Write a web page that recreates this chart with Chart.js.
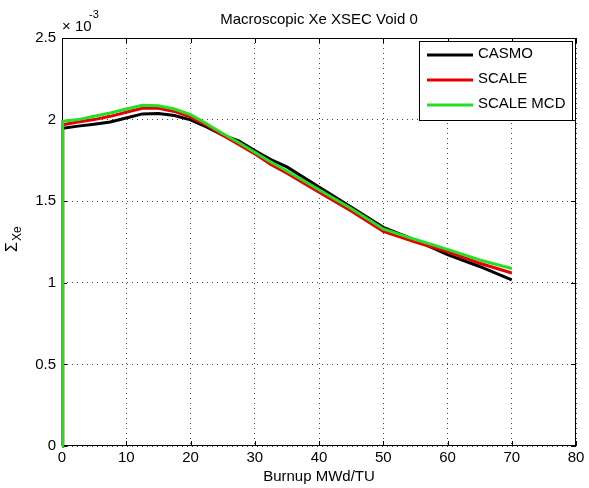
<!DOCTYPE html>
<html>
<head>
<meta charset="utf-8">
<script src="https://cdn.jsdelivr.net/npm/chart.js@4"></script>
<style>
  html, body { margin: 0; padding: 0; background: #fff; }
  canvas { display: block; }
</style>
</head>
<body>
<canvas id="xsecChart" width="589" height="488"></canvas>
<script>
// Macroscopic Xe XSEC, void 0 - values in units of 1e-3

const burnup = [0, 0.1, 2.5, 5, 7.5, 10, 12.5, 15, 17.5, 20, 22.5, 25, 27.5, 30, 32.5, 35, 40, 45, 50, 55, 60, 65, 70];
const casmo = [0, 1.947, 1.96, 1.972, 1.985, 2.01, 2.035, 2.038, 2.025, 1.998, 1.955, 1.905, 1.87, 1.81, 1.755, 1.71, 1.587, 1.465, 1.34, 1.262, 1.172, 1.10, 1.018];
const scale = [0, 1.968, 1.985, 2.0, 2.02, 2.045, 2.07, 2.07, 2.05, 2.015, 1.965, 1.905, 1.848, 1.79, 1.725, 1.672, 1.555, 1.44, 1.315, 1.25, 1.19, 1.12, 1.06];
const scaleMcd = [0, 1.99, 2.0, 2.02, 2.04, 2.065, 2.088, 2.085, 2.065, 2.03, 1.975, 1.915, 1.86, 1.80, 1.74, 1.685, 1.57, 1.455, 1.33, 1.265, 1.205, 1.14, 1.088];

const xTicks = [0, 10, 20, 30, 40, 50, 60, 70, 80];
const yTicks = [0, 0.5, 1, 1.5, 2, 2.5];

const FONT = "'Liberation Sans', Arial, Helvetica, sans-serif";

const toPoints = ys => burnup.map((x, i) => ({ x, y: ys[i] }));

const series = [
  { label: "CASMO", data: casmo, color: "#000000" },
  { label: "SCALE", data: scale, color: "#e80000" },
  { label: "SCALE MCD", data: scaleMcd, color: "#22e022" }
];

// matlab-like frame, inner ticks, texts and legend box
const matlabDecor = {
  id: "matlabDecor",
  beforeDatasetsDraw(chart) {
    const { ctx, chartArea: a, scales } = chart;
    ctx.save();
    ctx.strokeStyle = "#000";
    ctx.lineWidth = 1;
    ctx.setLineDash([]);
    ctx.strokeRect(a.left + 0.5, a.top + 0.5, a.right - a.left - 1, a.bottom - a.top - 1);
    ctx.beginPath();
    xTicks.forEach(v => {
      const px = Math.round(scales.x.getPixelForValue(v)) + 0.5;
      ctx.moveTo(px, a.bottom); ctx.lineTo(px, a.bottom - 5);
      ctx.moveTo(px, a.top); ctx.lineTo(px, a.top + 5);
    });
    yTicks.forEach(v => {
      const py = Math.round(scales.y.getPixelForValue(v)) + 0.5;
      ctx.moveTo(a.left, py); ctx.lineTo(a.left + 5, py);
      ctx.moveTo(a.right, py); ctx.lineTo(a.right - 5, py);
    });
    ctx.stroke();
    ctx.restore();
  },
  afterDraw(chart) {
    const { ctx, chartArea: a } = chart;
    ctx.save();
    ctx.fillStyle = "#000";
    ctx.textBaseline = "middle";

    // title
    ctx.font = `15px ${FONT}`;
    ctx.textAlign = "center";
    ctx.fillText("Macroscopic Xe XSEC Void 0", (a.left + a.right) / 2, 20);

    // x axis title
    ctx.fillText("Burnup MWd/TU", (a.left + a.right) / 2, 477);

    // exponent
    ctx.textAlign = "left";
    ctx.fillText("\u00d7 10", a.left, 27);
    ctx.font = `11px ${FONT}`;
    ctx.fillText("-3", a.left + 27, 15);

    // y label: Sigma with Xe subscript, rotated
    ctx.save();
    ctx.translate(13, 240);
    ctx.rotate(-Math.PI / 2);
    ctx.font = `16px ${FONT}`;
    ctx.textAlign = "left";
    ctx.fillText("\u03a3", -12, 0);
    ctx.font = `12px ${FONT}`;
    ctx.fillText("Xe", -1, 5);
    ctx.restore();

    // legend
    const lw = 153, lh = 79;
    const lx = a.right - lw - 4, ly = a.top + 3;
    ctx.fillStyle = "#fff";
    ctx.fillRect(lx, ly, lw, lh);
    ctx.strokeStyle = "#000";
    ctx.lineWidth = 1;
    ctx.strokeRect(lx + 0.5, ly + 0.5, lw, lh);
    ctx.font = `15px ${FONT}`;
    chart.data.datasets.forEach((ds, i) => {
      const rowY = ly + 14 + i * 25;
      ctx.strokeStyle = ds.borderColor;
      ctx.lineWidth = 3;
      ctx.beginPath();
      ctx.moveTo(lx + 8, rowY);
      ctx.lineTo(lx + 54, rowY);
      ctx.stroke();
      ctx.fillStyle = "#000";
      ctx.fillText(ds.label, lx + 59, rowY - 1);
    });

    ctx.restore();
  }
};

new Chart(document.getElementById("xsecChart"), {
  type: "line",
  data: {
    datasets: series.map((s, i) => ({
      label: s.label,
      data: toPoints(s.data),
      borderColor: s.color,
      backgroundColor: s.color,
      borderWidth: 3,
      pointRadius: 0,
      tension: 0,
      clip: 4,
      order: series.length - i
    }))
  },
  options: {
    responsive: false,
    animation: false,
    layout: { padding: { top: 38, right: 13, left: 0, bottom: 0 } },
    plugins: { legend: { display: false }, tooltip: { enabled: false } },
    scales: {
      x: {
        type: "linear",
        min: 0, max: 80,
        afterBuildTicks: s => { s.ticks = xTicks.map(v => ({ value: v })); },
        afterFit: s => { s.height = 42; },
        ticks: { color: "#000", font: { family: FONT, size: 15 }, padding: 3, maxRotation: 0 },
        grid: { color: "#444", drawTicks: false, lineWidth: 1 },
        border: { display: false, dash: [1, 4] }
      },
      y: {
        type: "linear",
        min: 0, max: 2.5,
        afterBuildTicks: s => { s.ticks = yTicks.map(v => ({ value: v })); },
        afterFit: s => { s.width = 62; },
        ticks: { color: "#000", font: { family: FONT, size: 15 }, padding: 6, callback: v => String(v) },
        grid: { color: "#444", drawTicks: false, lineWidth: 1 },
        border: { display: false, dash: [1, 4] }
      }
    }
  },
  plugins: [matlabDecor]
});
</script>
</body>
</html>
